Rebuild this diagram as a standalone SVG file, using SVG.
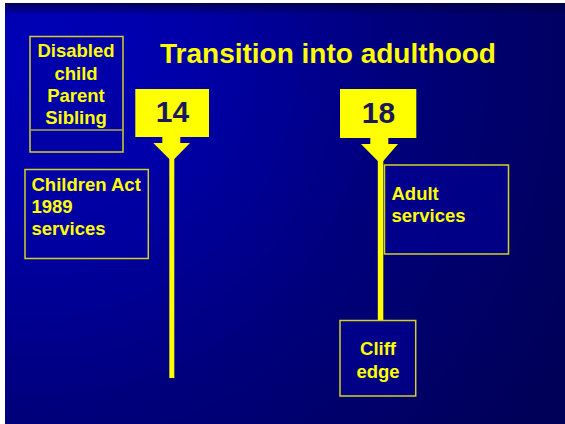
<svg xmlns="http://www.w3.org/2000/svg" width="565" height="424" viewBox="0 0 565 424">
<defs>
<radialGradient id="bg" gradientUnits="userSpaceOnUse" cx="40" cy="60" r="600">
<stop offset="0" stop-color="#0000b8"/>
<stop offset="0.25" stop-color="#0000a8"/>
<stop offset="0.6" stop-color="#00007a"/>
<stop offset="1" stop-color="#000058"/>
</radialGradient>
<linearGradient id="topshade" x1="0" y1="0" x2="0" y2="1">
<stop offset="0" stop-color="#000040" stop-opacity="0.8"/>
<stop offset="1" stop-color="#000040" stop-opacity="0"/>
</linearGradient>
<style>
.box{fill:#0000a0;fill-opacity:0.5;stroke:#d0d028;stroke-width:1.5}
.t{font-family:"Liberation Sans",Arial,sans-serif;font-weight:bold;fill:#ffff00;font-size:18.5px}
.title{font-size:28px;text-anchor:middle}
.num{font-family:"Liberation Sans",Arial,sans-serif;font-weight:bold;fill:#1a1a5a;font-size:30px;text-anchor:middle}
.mark{fill:#ffff00}
</style>
</defs>
<rect x="0" y="0" width="565" height="424" fill="#ffffff"/>
<rect x="5" y="3" width="560" height="421" fill="url(#bg)"/>
<rect x="5" y="3" width="560" height="12" fill="url(#topshade)"/>

<text class="t title" x="328" y="63">Transition into adulthood</text>

<g id="connectors">
<rect class="mark" x="169.3" y="150" width="5" height="228"/>
<rect class="mark" x="377.8" y="150" width="5.5" height="171"/>
</g>

<g id="n-disabled">
<rect class="box" x="30" y="36.5" width="93" height="115.5"/>
<line x1="30" y1="130" x2="123" y2="130" stroke="#a8a850" stroke-width="1.5"/>
<text class="t" text-anchor="middle" x="76" y="57">Disabled</text>
<text class="t" text-anchor="middle" x="76" y="80">child</text>
<text class="t" text-anchor="middle" x="76" y="102">Parent</text>
<text class="t" text-anchor="middle" x="76" y="124">Sibling</text>
</g>

<g id="n-14">
<rect class="mark" x="135.3" y="89" width="73.7" height="48"/>
<polygon class="mark" points="162.3,136 180.3,136 180.3,143 190,143 174.3,159 169.3,159 153.3,143 162.3,143"/>
<text class="num" x="172.5" y="122">14</text>
</g>

<g id="n-18">
<rect class="mark" x="340" y="89" width="76.3" height="49"/>
<polygon class="mark" points="370.3,137 388.3,137 388.3,144 398,144 383.3,161 377.8,161 361,144 370.3,144"/>
<text class="num" x="378.5" y="123">18</text>
</g>

<g id="n-children">
<rect class="box" x="25" y="169.5" width="123.3" height="89"/>
<text class="t" x="31.5" y="191">Children Act</text>
<text class="t" x="31.5" y="213">1989</text>
<text class="t" x="31.5" y="235">services</text>
</g>

<g id="n-adult">
<rect class="box" x="384.5" y="165" width="124" height="89"/>
<text class="t" x="391.5" y="200">Adult</text>
<text class="t" x="391.5" y="222">services</text>
</g>

<g id="n-cliff">
<rect class="box" x="340" y="320.5" width="75.7" height="75.5"/>
<text class="t" text-anchor="middle" x="378" y="355">Cliff</text>
<text class="t" text-anchor="middle" x="378" y="378">edge</text>
</g>
</svg>
